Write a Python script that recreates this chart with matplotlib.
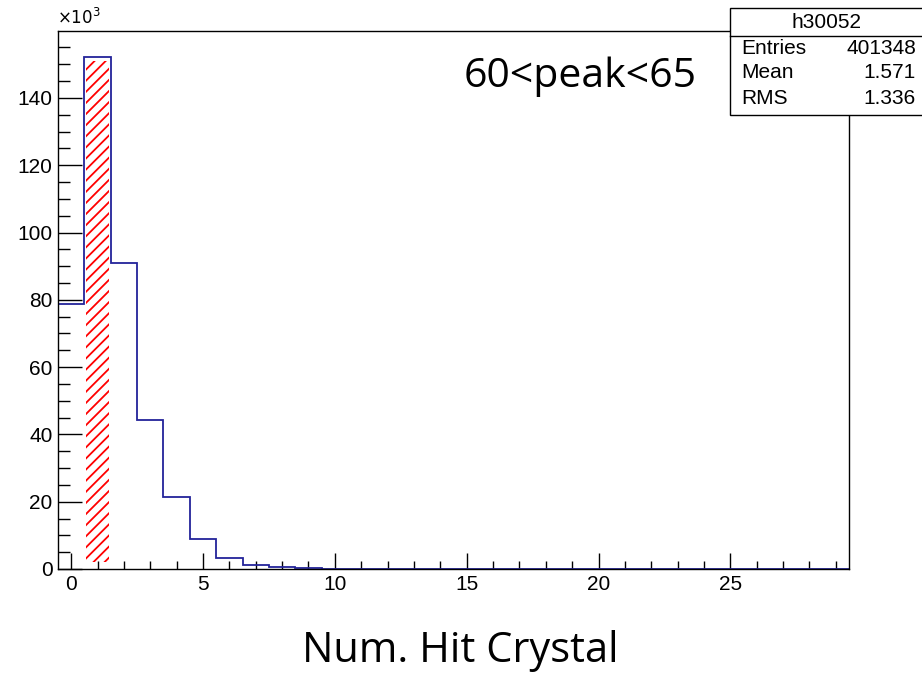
import matplotlib
matplotlib.use("Agg")
import matplotlib.pyplot as plt
import numpy as np
from matplotlib.ticker import MultipleLocator

# histogram contents (x10^3 entries), bins centred on 0..29
bin_edges = np.arange(-0.5, 30.0, 1.0)
counts = [78.8, 152.3, 91.0, 44.2, 21.3, 9.0, 3.3, 1.2, 0.5, 0.2,
          0.1, 0.05, 0.03, 0.02, 0.01, 0, 0, 0, 0, 0,
          0, 0, 0, 0, 0, 0, 0, 0, 0, 0]

# selected bin (hatched)
sel_x = 1
sel_bottom = 2.0
sel_top = 151.0

stats_name = "h30052"
stats_rows = [("Entries", "401348"), ("Mean", "1.571"), ("RMS", "1.336")]

plt.rcParams['font.family'] = ['Liberation Sans', 'DejaVu Sans']
plt.rcParams['hatch.linewidth'] = 1.3

fig = plt.figure(figsize=(9.22, 6.73), dpi=100)
ax = fig.add_axes([58/922, 1 - 569/673, (849 - 58)/922, (569 - 31)/673])

ax.bar(sel_x, sel_top - sel_bottom, bottom=sel_bottom, width=0.9,
       facecolor='none', edgecolor='red', linewidth=0, hatch='///', zorder=1)
ax.stairs(counts, bin_edges, baseline=None, color='#23239a', linewidth=1.3, zorder=2)

ax.set_xlim(-0.5, 29.5)
ax.set_ylim(0, 159.9)
ax.xaxis.set_major_locator(MultipleLocator(5))
ax.xaxis.set_minor_locator(MultipleLocator(1))
ax.yaxis.set_major_locator(MultipleLocator(20))
ax.yaxis.set_minor_locator(MultipleLocator(5))
ax.tick_params(axis='x', which='major', direction='in', length=11.5, width=1, labelsize=15, pad=4)
ax.tick_params(axis='x', which='minor', direction='in', length=5.5, width=1)
ax.tick_params(axis='y', which='major', direction='in', length=17, width=1, labelsize=15, pad=4)
ax.tick_params(axis='y', which='minor', direction='in', length=8.5, width=1)
for s in ax.spines.values():
    s.set_linewidth(1)

fig.text(57/922, 1 - 17/673, r'$\times10^{3}$', fontsize=12, ha='left', va='center')

# title-like label
fig.text(580/922, 1 - 87/673, '60<peak<65', fontsize=29.5, family=['Open Sans', 'DejaVu Sans'],
         ha='center', va='baseline')

# x axis title
fig.text(460/922, 1 - 662/673, 'Num. Hit Crystal', fontsize=30, family=['Open Sans', 'DejaVu Sans'],
         ha='center', va='baseline')

# stats box
bx0, bx1 = 730/922, 930/922
by_top, by_bot = 1 - 8/673, 1 - 115/673
fig.patches.append(plt.Rectangle((bx0, by_bot), bx1 - bx0, by_top - by_bot, transform=fig.transFigure,
                                 facecolor='white', edgecolor='black', linewidth=1, zorder=5))
sep_y = 1 - 36/673
fig.lines.append(plt.Line2D([bx0, bx1], [sep_y, sep_y], transform=fig.transFigure,
                            color='black', linewidth=1, zorder=6))
fig.text(826/922, 1 - 23/673, stats_name, fontsize=15, ha='center', va='center', zorder=7)
row_y = [48, 73, 98]
for (lab, val), yy in zip(stats_rows, row_y):
    fig.text(741/922, 1 - yy/673, lab, fontsize=15, ha='left', va='center', zorder=7)
    fig.text(916/922, 1 - yy/673, val, fontsize=15, ha='right', va='center', zorder=7)

fig.savefig('out.png', dpi=100)
